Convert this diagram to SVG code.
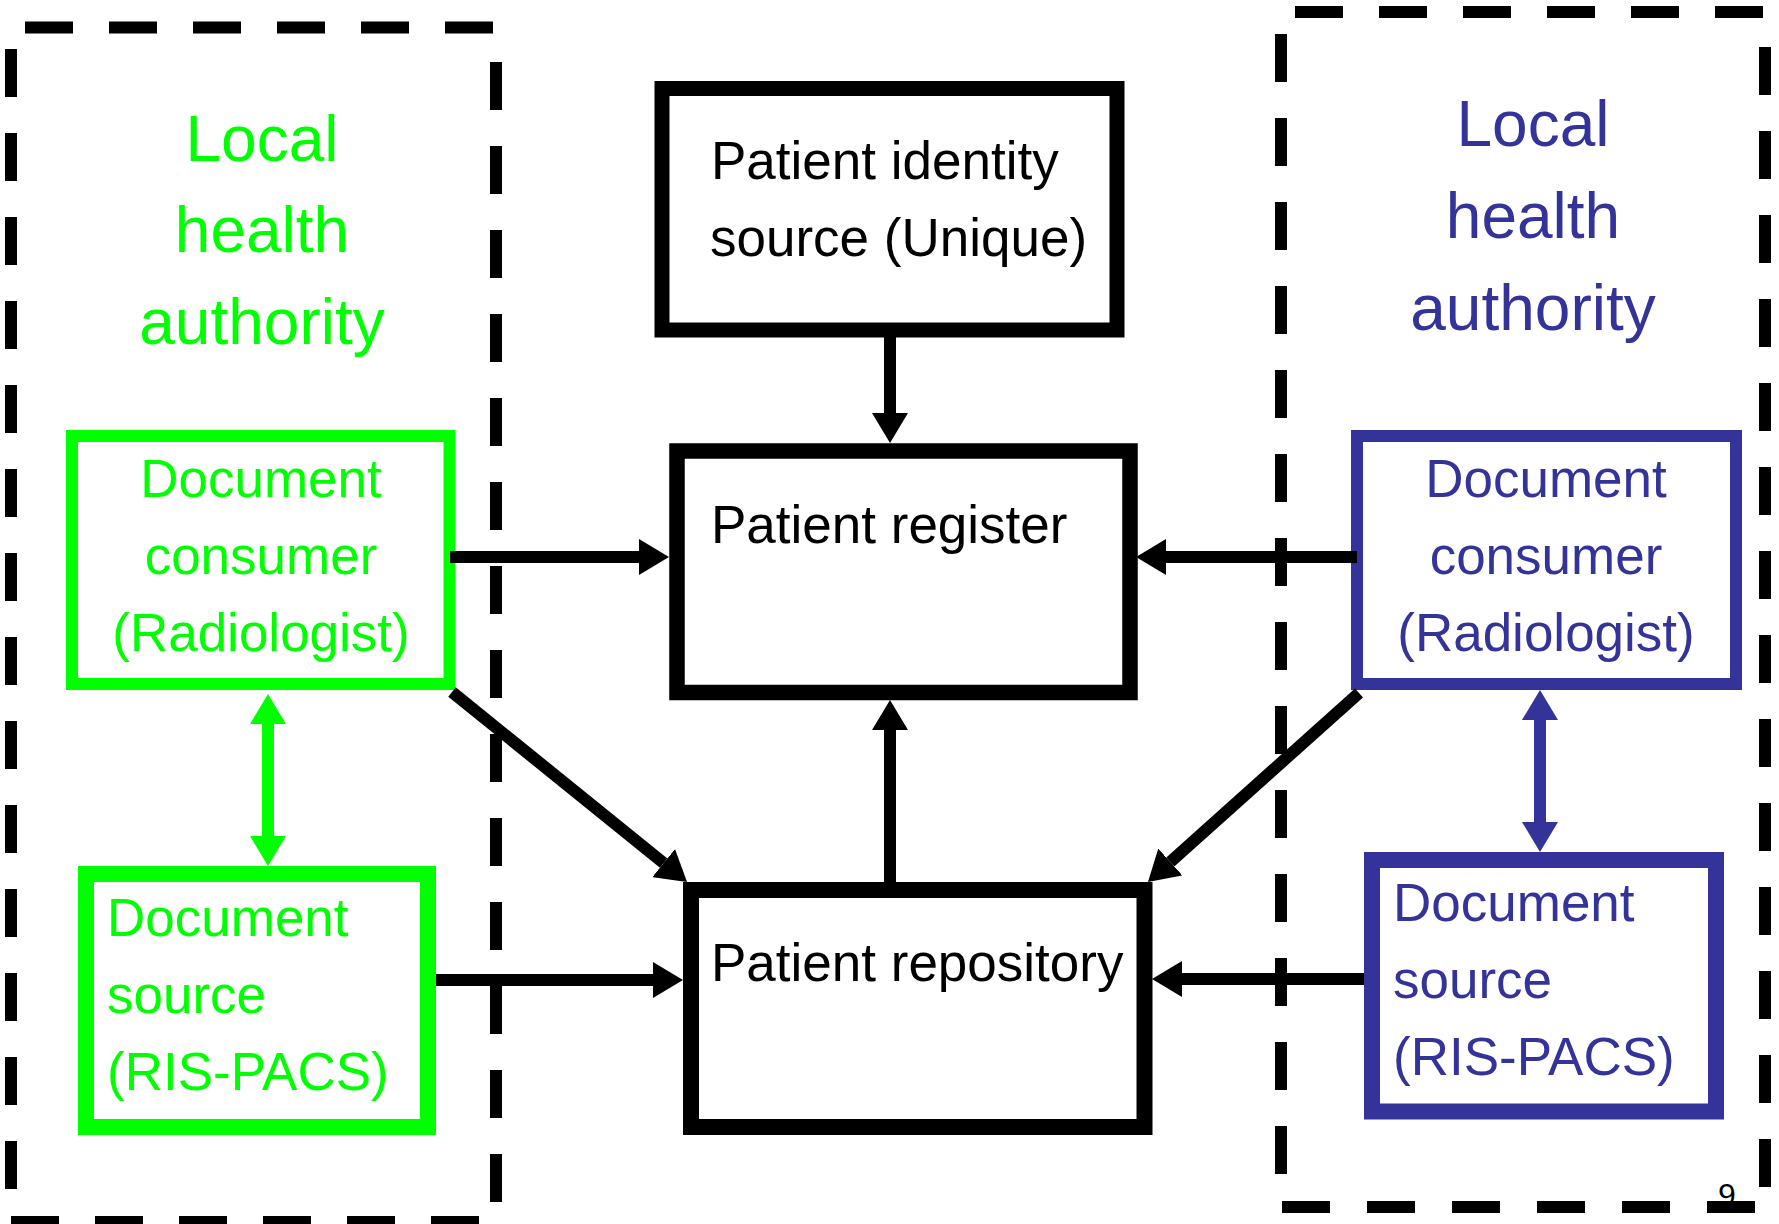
<svg xmlns="http://www.w3.org/2000/svg" width="1779" height="1224" viewBox="0 0 1779 1224">
<style>
.bd{stroke:#000;stroke-width:12;fill:none;stroke-dasharray:48 36}
.t{font-family:"Liberation Sans",Arial,sans-serif;font-size:53px}
.big{font-family:"Liberation Sans",Arial,sans-serif;font-size:64px}
.k{fill:#000}.g{fill:#00FF00}.b{fill:#333399}
.box{fill:#fff}
.ck{stroke:#000;stroke-width:12;fill:none}
.cg{stroke:#00FF00;stroke-width:12;fill:none}
.cb{stroke:#333399;stroke-width:12;fill:none}
</style>
<defs>
<marker id="ak" viewBox="0 -18 30 36" refX="0" refY="0" markerWidth="30" markerHeight="36" markerUnits="userSpaceOnUse" orient="auto-start-reverse"><path d="M0,-18 L30,0 L0,18 z" fill="#000"/></marker>
<marker id="ag" viewBox="0 -18 30 36" refX="0" refY="0" markerWidth="30" markerHeight="36" markerUnits="userSpaceOnUse" orient="auto-start-reverse"><path d="M0,-18 L30,0 L0,18 z" fill="#00FF00"/></marker>
<marker id="ab" viewBox="0 -18 30 36" refX="0" refY="0" markerWidth="30" markerHeight="36" markerUnits="userSpaceOnUse" orient="auto-start-reverse"><path d="M0,-18 L30,0 L0,18 z" fill="#333399"/></marker>
</defs>
<rect width="1779" height="1224" fill="#fff"/>
<text x="1727" y="1206" text-anchor="middle" font-family="Liberation Sans, Arial, sans-serif" font-size="32" fill="#000">9</text>
<g id="left-authority">
<line class="bd" x1="25" y1="27.5" x2="496" y2="27.5"/>
<line class="bd" x1="11" y1="49" x2="11" y2="1190"/>
<line class="bd" x1="496" y1="62" x2="496" y2="1202"/>
<line class="bd" x1="11" y1="1222" x2="479" y2="1222"/>
<text class="big g" text-anchor="middle"><tspan x="262" y="161">Local</tspan><tspan x="262" y="252">health</tspan><tspan x="262" y="344">authority</tspan></text>
</g>
<g id="right-authority">
<line class="bd" x1="1295" y1="12" x2="1763" y2="12"/>
<line class="bd" x1="1281" y1="34" x2="1281" y2="1174"/>
<line class="bd" x1="1765" y1="47" x2="1765" y2="1187"/>
<line class="bd" x1="1282" y1="1207" x2="1757" y2="1207" style="stroke-dasharray:48 37"/>
<text class="big b" text-anchor="middle"><tspan x="1533" y="146">Local</tspan><tspan x="1533" y="238">health</tspan><tspan x="1533" y="330">authority</tspan></text>
</g>
<g id="identity-source">
<rect class="box" x="662" y="88.5" width="455" height="241.5" stroke="#000" stroke-width="15"/>
<text class="t k"><tspan x="711" y="179">Patient identity</tspan><tspan x="710" y="256">source (Unique)</tspan></text>
</g>
<g id="patient-register">
<rect class="box" x="677" y="451" width="453" height="241.5" stroke="#000" stroke-width="15.5"/>
<text class="t k" x="711" y="543">Patient register</text>
</g>
<g id="patient-repository">
<rect class="box" x="691" y="890" width="453.5" height="237" stroke="#000" stroke-width="16"/>
<text class="t k" x="711" y="981">Patient repository</text>
</g>
<g id="green-consumer">
<rect class="box" x="72" y="436" width="377.5" height="248" stroke="#00FF00" stroke-width="12"/>
<text class="t g" text-anchor="middle"><tspan x="261" y="497">Document</tspan><tspan x="261" y="574">consumer</tspan><tspan x="261" y="651">(Radiologist)</tspan></text>
</g>
<g id="green-source">
<rect class="box" x="86" y="874" width="342" height="253" stroke="#00FF00" stroke-width="16"/>
<text class="t g"><tspan x="107" y="936">Document</tspan><tspan x="107" y="1013">source</tspan><tspan x="107" y="1090">(RIS-PACS)</tspan></text>
</g>
<g id="blue-consumer">
<rect class="box" x="1357" y="436" width="379" height="248" stroke="#333399" stroke-width="12"/>
<text class="t b" text-anchor="middle"><tspan x="1546" y="497">Document</tspan><tspan x="1546" y="574">consumer</tspan><tspan x="1546" y="651">(Radiologist)</tspan></text>
</g>
<g id="blue-source">
<rect class="box" x="1372" y="860" width="344" height="251.5" stroke="#333399" stroke-width="16"/>
<text class="t b"><tspan x="1393" y="921">Document</tspan><tspan x="1393" y="998">source</tspan><tspan x="1393" y="1075">(RIS-PACS)</tspan></text>
</g>
<g id="connectors">
<line class="ck" x1="890" y1="337" x2="890" y2="413" marker-end="url(#ak)"/>
<line class="ck" x1="450" y1="557" x2="639" y2="557" marker-end="url(#ak)"/>
<line class="ck" x1="1357" y1="557" x2="1166" y2="557" marker-end="url(#ak)"/>
<line class="ck" x1="890" y1="882" x2="890" y2="730" marker-end="url(#ak)"/>
<line class="ck" x1="452" y1="692" x2="663.7" y2="863.1" marker-end="url(#ak)"/>
<line class="ck" x1="1359" y1="693" x2="1170.3" y2="862" marker-end="url(#ak)"/>
<line class="ck" x1="436" y1="980" x2="653" y2="980" marker-end="url(#ak)"/>
<line class="ck" x1="1364" y1="979" x2="1182" y2="979" marker-end="url(#ak)"/>
<line class="cg" x1="268" y1="724" x2="268" y2="836" marker-start="url(#ag)" marker-end="url(#ag)"/>
<line class="cb" x1="1540" y1="720" x2="1540" y2="822" marker-start="url(#ab)" marker-end="url(#ab)"/>
</g>
</svg>
